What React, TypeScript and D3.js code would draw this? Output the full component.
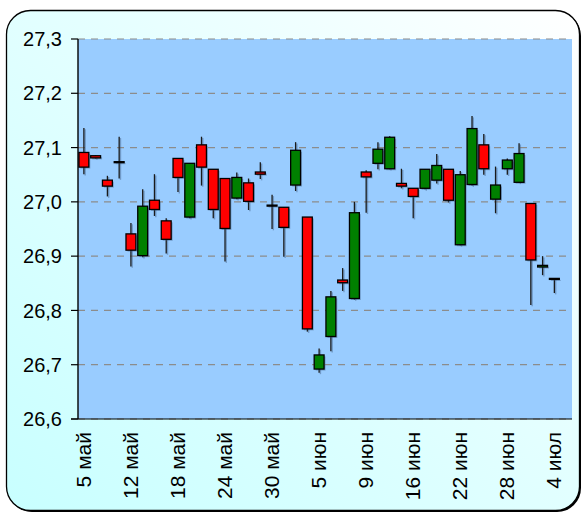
import React from 'react';
import * as d3 from 'd3';

const W = 582;
const H = 515;
const M = { left: 78, right: 10, top: 39, bottom: 96 };

// candles: open / high / low / close, one per trading day
const open = [
  27.091, 27.085, 27.04, 27.074, 26.941, 26.901, 27.003, 26.965, 27.08, 26.972,
  27.105, 27.06, 27.043, 27.007, 27.035, 27.055, 26.994, 26.99, 27.031, 26.972,
  26.692, 26.752, 26.856, 26.822, 27.055, 27.071, 27.061, 27.034, 27.025, 27.025,
  27.04, 27.06, 26.921, 27.032, 27.105, 27.005, 27.061, 27.036, 26.997, 26.88,
  26.859,
];
const high = [
  27.136, 27.086, 27.048, 27.12, 26.961, 27.023, 27.051, 26.97, 27.08, 27.071,
  27.12, 27.06, 27.043, 27.054, 27.043, 27.073, 27.013, 26.99, 27.11, 26.972,
  26.73, 26.836, 26.878, 27.0, 27.058, 27.11, 27.121, 27.061, 27.025, 27.06,
  27.088, 27.06, 27.057, 27.158, 27.125, 27.065, 27.08, 27.108, 26.997, 26.9,
  26.859,
];
const low = [
  27.051, 27.08, 27.01, 27.043, 26.881, 26.898, 26.974, 26.905, 27.018, 26.97,
  27.03, 26.97, 26.89, 27.005, 26.985, 27.042, 26.95, 26.899, 27.02, 26.761,
  26.685, 26.725, 26.836, 26.82, 26.98, 27.06, 27.06, 27.025, 26.97, 27.023,
  27.034, 26.999, 26.92, 27.03, 27.05, 26.979, 27.05, 27.035, 26.81, 26.865,
  26.832,
];
const close = [
  27.064, 27.081, 27.029, 27.074, 26.911, 26.992, 26.986, 26.931, 27.045, 27.071,
  27.064, 26.986, 26.951, 27.045, 27.001, 27.051, 26.994, 26.953, 27.095, 26.766,
  26.718, 26.825, 26.851, 26.98, 27.046, 27.097, 27.119, 27.029, 27.01, 27.06,
  27.067, 27.003, 27.05, 27.135, 27.061, 27.031, 27.077, 27.089, 26.893, 26.883,
  26.859,
];

// x labels, one every fourth candle
const tickLabels = ['5 май', '12 май', '18 май', '24 май', '30 май', '5 июн', '9 июн', '16 июн', '22 июн', '28 июн', '4 июл'];
const tickEvery = 4;
const yTicks = [26.6, 26.7, 26.8, 26.9, 27.0, 27.1, 27.2, 27.3];

const ru = d3.formatLocale({ decimal: ',', thousands: ' ', grouping: [3], currency: ['', ' ₽'] });
const fmt = ru.format('.1f');

export default function App() {
  const n = open.length;
  const x = d3.scaleLinear().domain([-0.5, n + 0.5]).range([M.left, W - M.right]);
  const y = d3.scaleLinear().domain([26.6, 27.3]).range([H - M.bottom, M.top]);
  const step = x(1) - x(0);
  const bw = step * 0.84;
  const font = '"Liberation Sans", Arial, sans-serif';

  return (
    <svg width={W} height={H} style={{ position: 'absolute', left: 0, top: 0, display: 'block' }}>
      <defs>
        <linearGradient id="bg" x1="1" y1="0" x2="0" y2="1">
          <stop offset="0" stopColor="#FFFFFF" />
          <stop offset="0.45" stopColor="#E4FFFF" />
          <stop offset="1" stopColor="#C8FFFF" />
        </linearGradient>
      </defs>

      {/* frame with shadow */}
      <rect x={8} y={12} width={573} height={500} rx={24} fill="#000" />
      <rect x={6.5} y={10.5} width={573} height={500} rx={24} fill="url(#bg)" stroke="#000" strokeWidth={1.3} />

      {/* plot area */}
      <rect x={M.left} y={M.top} width={W - M.right - M.left} height={H - M.bottom - M.top} fill="#99CCFF" />

      {/* grid + y ticks */}
      {yTicks.map((t) => (
        <g key={t}>
          <line x1={M.left} x2={W - M.right} y1={y(t)} y2={y(t)} stroke="#8C8C8C" strokeWidth={1.2} strokeDasharray="7,6" />
          <line x1={M.left - 7} x2={M.left} y1={y(t)} y2={y(t)} stroke="#000" strokeWidth={1.2} />
          <text x={M.left - 16} y={y(t)} dy="0.36em" textAnchor="end" fontSize={20} fontFamily={font} fill="#000">
            {fmt(t)}
          </text>
        </g>
      ))}

      {/* candles */}
      {open.map((o, i) => {
        const c = close[i];
        const cx = x(i);
        const top = y(Math.max(o, c));
        const bot = y(Math.min(o, c));
        const h = Math.max(bot - top, 1);
        const fill = c > o ? '#008000' : c < o ? '#FF0000' : '#000';
        return (
          <g key={i}>
            <line x1={cx + 1.3} x2={cx + 1.3} y1={y(high[i]) + 1.3} y2={y(low[i]) + 1.3} stroke="#3D5A80" strokeOpacity={0.45} strokeWidth={1.4} />
            <line x1={cx} x2={cx} y1={y(high[i])} y2={y(low[i])} stroke="#1a1a1a" strokeWidth={1.3} />
            <rect x={cx - bw / 2 + 1.5} y={top + 1.5} width={bw} height={h} fill="#3D5A80" fillOpacity={0.4} />
            <rect x={cx - bw / 2} y={top} width={bw} height={h} fill={fill} stroke="#000" strokeWidth={1.3} />
          </g>
        );
      })}

      {/* axes */}
      <line x1={M.left} x2={M.left} y1={M.top} y2={H - M.bottom} stroke="#000" strokeWidth={1.4} />
      <line x1={M.left - 7} x2={W - M.right} y1={H - M.bottom} y2={H - M.bottom} stroke="#000" strokeWidth={1.2} />

      {/* x labels */}
      {tickLabels.map((lab, k) => {
        const cx = x(k * tickEvery);
        const ty = H - M.bottom + 13;
        return (
          <text
            key={lab}
            transform={`translate(${cx + 7},${ty}) rotate(-90)`}
            textAnchor="end"
            fontSize={21}
            fontFamily={font}
            fill="#000"
          >
            {lab}
          </text>
        );
      })}
    </svg>
  );
}
